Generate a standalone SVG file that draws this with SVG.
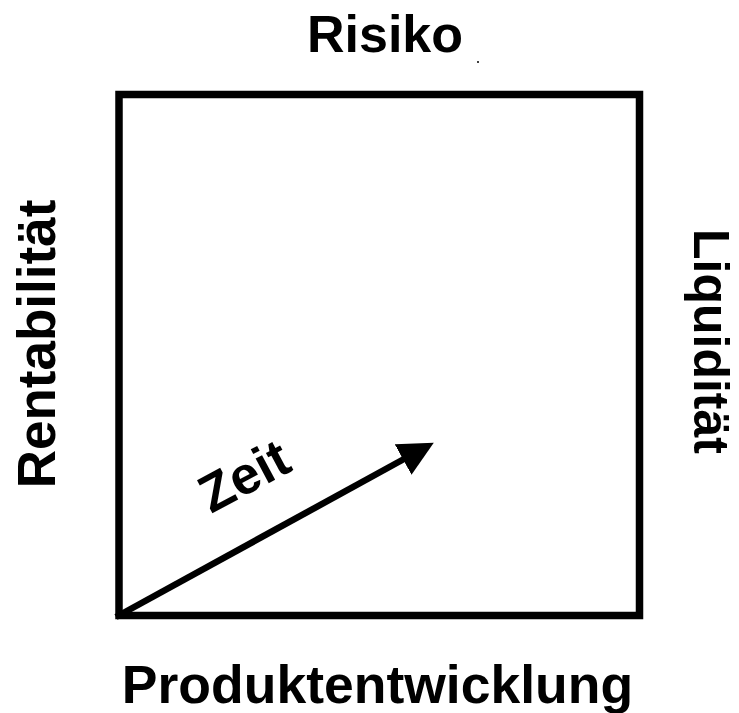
<svg xmlns="http://www.w3.org/2000/svg" width="739" height="713" viewBox="0 0 739 713">
<defs>
<style>
.lbl{font-family:"Liberation Sans",Arial,sans-serif;font-weight:bold;font-size:52px;fill:#000;text-anchor:middle}
</style>
<marker id="ah" markerUnits="userSpaceOnUse" markerWidth="35" markerHeight="35" viewBox="0 0 34 34" refX="1" refY="17" orient="auto">
<path d="M0,0 L34,17 L0,34 Z" fill="#000"/>
</marker>
</defs>
<rect width="739" height="713" fill="#fff"/>
<g id="square">
<rect x="119" y="94.5" width="520.5" height="521" fill="none" stroke="#000" stroke-width="7.5"/>
</g>
<g id="connectors">
<line x1="116" y1="617" x2="404" y2="459" stroke="#000" stroke-width="6.5" marker-end="url(#ah)"/>
</g>
<g id="risiko"><text class="lbl" x="385" y="52">Risiko</text></g>
<circle cx="478" cy="62" r="1" fill="#000"/>
<g id="produktentwicklung"><text class="lbl" x="377.5" y="703" style="font-size:53.5px">Produktentwicklung</text></g>
<g id="rentabilitaet"><text class="lbl" transform="translate(55,344) rotate(-90)" style="font-size:53px">Rentabilität</text></g>
<g id="liquiditaet"><text class="lbl" transform="translate(694,341.5) rotate(90)" style="font-size:50px">Liquidität</text></g>
<g id="zeit"><text class="lbl" style="text-anchor:start;font-size:53px" transform="translate(211,514) rotate(-28)">Zeit</text></g>
</svg>
